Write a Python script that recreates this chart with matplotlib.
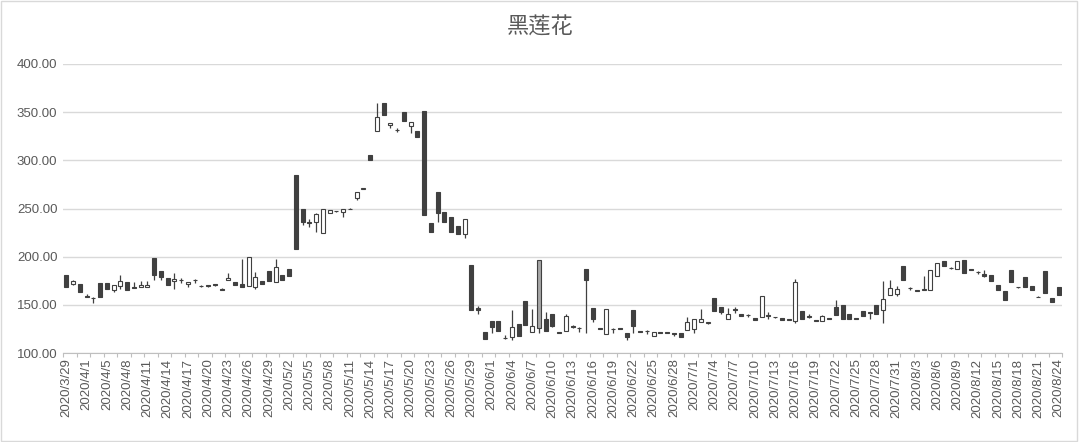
import matplotlib
matplotlib.use('Agg')
import matplotlib.pyplot as plt
import pandas as pd

# one trading day (4/4) is absent from the category axis
dates = [d for d in pd.date_range('2020-03-29', '2020-08-24') if d != pd.Timestamp('2020-04-04')]
labels = [f'{d.year}/{d.month}/{d.day}' for d in dates]

opens = [181, 172, 172, 159.5, 157, 173, 173, 165, 170, 174,
         168.5, 168, 168, 199, 185, 178, 174.5, 176, 171.5, 176,
         170, 170.5, 172, 166.5, 176, 174, 171.5, 169.5, 169, 174.5,
         185.5, 174, 180.5, 187, 285, 250, 235.5, 235.5, 225, 245.5,
         247.5, 246, 250, 260.5, 270.5, 306, 330.5, 360, 336.5, 332,
         350, 336, 330, 351.5, 234.5, 267, 246, 241, 232, 224,
         191, 146.5, 122, 133.5, 133.5, 116, 116.5, 130.5, 154, 122,
         125.5, 135.5, 140.5, 121.5, 123, 128, 126, 187.5, 147, 126,
         120, 125, 125.5, 120.5, 145, 123, 123, 117.5, 121.5, 121.5,
         120.5, 120.5, 124, 125, 132, 131, 157.5, 148, 135, 145.5,
         140.5, 139.5, 136.5, 137, 139, 137.5, 136, 135, 133.5, 144,
         138, 134, 133.5, 136.5, 148, 149.5, 140, 136.5, 144, 142.5,
         150, 144.5, 160, 161, 190, 167.5, 165, 165.5, 165, 180,
         195, 188.5, 187.5, 196.5, 187, 184.5, 182, 181, 171, 164,
         186, 168.5, 179, 170, 158.5, 185, 157.5, 169]
highs = [181, 176, 172, 161, 158, 173, 173, 171, 181, 174,
         174, 174.5, 174.5, 199, 185, 178, 183, 178, 174, 176.5,
         170.5, 171, 172, 167, 183, 174, 197.5, 200, 184, 174.5,
         185.5, 197.5, 180.5, 187, 285, 250, 239, 245, 250, 248,
         247.5, 250, 250.5, 267, 271, 306, 360, 360, 339, 334,
         350, 339.5, 330, 351.5, 234.5, 267, 246, 241, 232, 239,
         191, 149, 122, 133.5, 133.5, 118.5, 145, 130.5, 154, 146,
         196.5, 143, 140.5, 121.5, 140.5, 129, 126.5, 187.5, 147, 126,
         146, 125.5, 126, 120.5, 145, 123, 123.5, 121.5, 121.5, 121.5,
         120.7, 120.5, 137.5, 135.5, 146, 132.5, 157.5, 148, 146.5, 148,
         140.5, 140.5, 136.5, 159, 143, 137.7, 136, 135, 176.5, 144,
         140, 134.2, 139, 136.6, 155.5, 149.5, 140, 136.7, 144, 142.5,
         150, 175, 175.5, 170, 190, 168, 165.3, 180, 186, 193.5,
         195, 188.8, 196, 196.5, 187.4, 184.8, 186, 181, 171, 164,
         186, 168.8, 179, 170, 159, 185, 157.5, 169]
lows = [169, 171, 163, 158, 152, 158, 166, 163, 166, 165,
        167, 168, 168, 176, 176, 171, 166, 173, 169, 173,
        169, 169, 170, 165, 176, 171, 168, 169.5, 166, 171.5,
        174.5, 174, 175.5, 180, 208, 233, 231, 226, 225, 245.5,
        246.5, 241, 249.5, 259, 270, 300, 330.5, 347, 334, 329,
        341, 328, 324.5, 243, 226, 236, 236, 226, 223.5, 219,
        144.5, 140.5, 114.5, 120.5, 122.5, 114.5, 113, 118, 129.5, 122,
        120.5, 123, 126.5, 120.5, 123, 125.5, 122, 121, 132.5, 124.5,
        120, 121, 124.5, 113, 120.5, 121.5, 119.5, 117.5, 120.5, 120.5,
        117.5, 116.5, 124, 121, 132, 130.5, 143.5, 141, 135, 142,
        138.5, 137, 134, 137, 135.5, 136.7, 134.5, 134, 131.5, 135,
        136.5, 132.8, 133, 135.2, 139.5, 135, 135.5, 135, 138.5, 135.5,
        140.5, 131, 160, 159, 175.5, 165.3, 164.3, 165.5, 165, 180,
        190, 187.4, 187.5, 183.5, 186.1, 182, 179, 175, 165.5, 155.5,
        174, 167.4, 169, 165.5, 157.8, 162, 152.5, 160]
closes = [169, 175, 163, 158.5, 157.5, 158, 166, 171, 175, 165,
          167.5, 171, 171, 181, 178.5, 171, 177, 175.5, 174, 175.5,
          169.5, 169.5, 171, 165.5, 178, 171, 168.5, 200, 179, 171.5,
          174.5, 189, 175.5, 180, 208, 236, 234.5, 244, 250, 248,
          247, 250, 249.5, 267, 270.5, 300, 345, 347, 339, 331,
          341, 339.5, 324.5, 243, 226, 245, 236, 226, 223.5, 239,
          145, 145, 114.5, 127, 122.5, 115.5, 127.5, 118, 129.5, 128,
          196.5, 123, 128.5, 120.5, 138.5, 127.5, 125.5, 175.5, 135, 125,
          146, 124.5, 125, 116.5, 128, 122, 122.5, 121.5, 121, 121,
          120, 116.5, 132, 135.5, 135, 132, 143.5, 143, 141, 144.5,
          138.5, 139, 134, 159, 138, 137, 134.5, 134, 174, 135,
          137.5, 133.2, 138, 135.5, 139.5, 135, 135.5, 135.2, 138.5, 141.5,
          140.5, 156, 167, 166.5, 175.5, 167, 164.5, 166.5, 186, 193.5,
          190, 188, 196, 183.5, 186.5, 184, 179.5, 175, 165.5, 155.5,
          174, 168, 169, 165.5, 158.2, 162, 152.5, 160]
highlight = [70]  # up bar drawn with a grey fill in the original

line_c = '#404040'
text_c = '#595959'

fig = plt.figure(figsize=(10.8, 4.42), dpi=100)
ax = fig.add_axes([63 / 1080, 1 - 353 / 442, 999 / 1080, 289 / 442])

x = list(range(len(opens)))
ax.vlines(x, lows, highs, color=line_c, linewidth=0.9, zorder=2)
bottoms = [min(o, c) for o, c in zip(opens, closes)]
heights = [max(abs(c - o), 0.4) for o, c in zip(opens, closes)]
fills = []
for i, (o, c) in enumerate(zip(opens, closes)):
    if i in highlight:
        fills.append('#a6a6a6')
    elif c >= o:
        fills.append('white')
    else:
        fills.append(line_c)
ax.bar(x, heights, bottom=bottoms, width=0.62, color=fills, edgecolor=line_c,
       linewidth=0.8, zorder=3)

ax.set_xlim(-0.5, len(opens) - 0.5)
ax.set_ylim(100, 400)
ax.set_yticks(range(100, 401, 50))
ax.set_yticklabels([f'{v:.2f}' for v in range(100, 401, 50)])
ax.set_xticks(x[::3])
ax.set_xticklabels(labels[::3], rotation=90)
ax.set_xticks([i - 0.5 for i in range(0, len(opens) + 1, 2)], minor=True)
ax.tick_params(axis='x', which='major', length=0, pad=4, labelsize=9.5, labelcolor=text_c)
ax.tick_params(axis='x', which='minor', length=3, color='#bfbfbf', width=0.8)
ax.tick_params(axis='y', length=0, pad=4, labelsize=9.5, labelcolor=text_c)
for lab in ax.get_xticklabels() + ax.get_yticklabels():
    lab.set_family(['Liberation Sans', 'DejaVu Sans'])

ax.grid(axis='y', color='#d9d9d9', linewidth=1)
ax.set_axisbelow(True)
for side in ['top', 'right', 'left']:
    ax.spines[side].set_visible(False)
ax.spines['bottom'].set_color('#bfbfbf')

fig.text(0.5, 1 - 27 / 442, '黑莲花', ha='center', va='center', fontsize=16,
         color=text_c, family=['Noto Sans CJK SC', 'DejaVu Sans'])
fig.patches.append(plt.Rectangle((0.001, 0.002), 0.996, 0.995, transform=fig.transFigure,
                                 fill=False, edgecolor='#d9d9d9', linewidth=1))

fig.savefig('out.png', dpi=100)
